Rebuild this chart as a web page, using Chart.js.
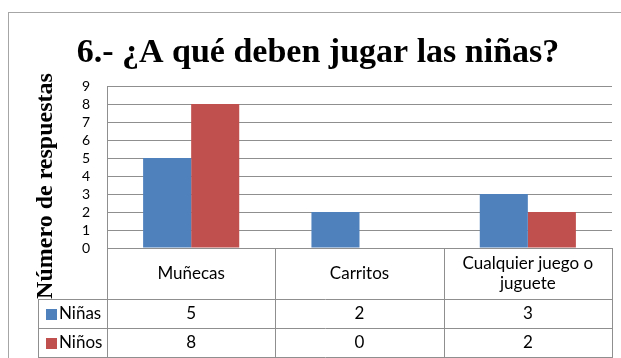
<!DOCTYPE html>
<html>
<head>
<meta charset="utf-8">
<script src="https://cdn.jsdelivr.net/npm/chart.js@4.4.1/dist/chart.umd.min.js"></script>
<style>
  html, body { margin: 0; padding: 0; background: #ffffff; }
  #wrap { width: 621px; height: 358px; }
</style>
</head>
<body>
<div id="wrap"><canvas id="chart" width="621" height="358"></canvas></div>
<script>
// Survey answers: what should girls play with?
const categories = ['Muñecas', 'Carritos', ['Cualquier juego o', 'juguete']];
const seriesNames = ['Niñas', 'Niños'];
const ninasValues = [5, 2, 3];
const ninosValues = [8, 0, 2];
const chartTitle = '6.- ¿A qué deben jugar las niñas?';
const yAxisTitle = 'Número de respuestas';

const seriesColors = ['#4F81BD', '#C0504D'];
const lineGray = '#8f8f8f';
const labelFont = 'Lato, "Open Sans", sans-serif';

// Draws the frame, title, vertical axis title and the data table under the plot.
const tableAndTitles = {
  id: 'tableAndTitles',
  afterDraw(chart) {
    const ctx = chart.ctx;
    const area = chart.chartArea;
    const xs = chart.scales.x;
    const n = categories.length;
    const colW = (area.right - area.left) / n;
    const tableLeft = 38;
    const headerBottom = 299;
    const rowH = 29;
    const tableBottom = headerBottom + rowH * 2;
    const seriesValues = [ninasValues, ninosValues];

    ctx.save();

    // outer frame
    ctx.strokeStyle = '#a6a6a6';
    ctx.lineWidth = 1;
    ctx.strokeRect(8.5, 12.5, 700, 400);

    // chart title
    ctx.fillStyle = '#000';
    ctx.font = 'bold 34px "Liberation Serif", "Times New Roman", serif';
    ctx.textAlign = 'center';
    ctx.textBaseline = 'alphabetic';
    ctx.fillText(chartTitle, 318, 62);

    // vertical axis title
    ctx.save();
    ctx.translate(46, 186);
    ctx.rotate(-Math.PI / 2);
    ctx.font = 'bold 24px "Liberation Serif", "Times New Roman", serif';
    ctx.textBaseline = 'middle';
    ctx.fillText(yAxisTitle, 0, 0);
    ctx.restore();

    // table grid
    ctx.strokeStyle = lineGray;
    ctx.lineWidth = 1;
    ctx.beginPath();
    for (let i = 0; i <= n; i++) {
      const x = Math.round(area.left + i * colW) + 0.5;
      ctx.moveTo(x, area.bottom);
      ctx.lineTo(x, tableBottom);
    }
    ctx.moveTo(tableLeft + 0.5, headerBottom);
    ctx.lineTo(tableLeft + 0.5, tableBottom);
    for (let r = 0; r <= 2; r++) {
      const y = headerBottom + r * rowH + 0.5;
      ctx.moveTo(tableLeft, y);
      ctx.lineTo(Math.round(area.right) + 1, y);
    }
    ctx.stroke();

    // category names in the header row
    ctx.fillStyle = '#000';
    ctx.font = '17px ' + labelFont;
    ctx.textAlign = 'center';
    ctx.textBaseline = 'middle';
    const headerMid = (area.bottom + headerBottom) / 2;
    categories.forEach((cat, i) => {
      const cx = xs.getPixelForValue(i);
      const lines = Array.isArray(cat) ? cat : [cat];
      const lh = 20;
      lines.forEach((ln, k) => {
        ctx.fillText(ln, cx, headerMid + (k - (lines.length - 1) / 2) * lh);
      });
    });

    // series rows: legend key, name and values
    seriesNames.forEach((name, s) => {
      const cy = headerBottom + s * rowH + rowH / 2 + 0.5;
      ctx.fillStyle = seriesColors[s];
      ctx.fillRect(46, Math.round(cy - 5.5), 11, 11);
      ctx.fillStyle = '#000';
      ctx.textAlign = 'left';
      ctx.fillText(name, 59, cy);
      ctx.textAlign = 'center';
      seriesValues[s].forEach((v, i) => {
        ctx.fillText(String(v), xs.getPixelForValue(i), cy);
      });
    });

    ctx.restore();
  }
};

new Chart(document.getElementById('chart'), {
  type: 'bar',
  data: {
    labels: categories,
    datasets: [
      { label: seriesNames[0], data: ninasValues, backgroundColor: seriesColors[0], borderWidth: 0 },
      { label: seriesNames[1], data: ninosValues, backgroundColor: seriesColors[1], borderWidth: 0 }
    ]
  },
  options: {
    responsive: false,
    devicePixelRatio: 1,
    animation: false,
    layout: { padding: { left: 0, top: 86, right: 9, bottom: 110 } },
    datasets: { bar: { categoryPercentage: 0.571, barPercentage: 1 } },
    plugins: {
      legend: { display: false },
      title: { display: false },
      tooltip: { enabled: false }
    },
    scales: {
      x: { display: false },
      y: {
        min: 0,
        max: 9,
        ticks: { stepSize: 1, autoSkip: false, padding: 17, color: '#000', font: { family: labelFont, size: 14 } },
        grid: { color: lineGray, lineWidth: 1, drawTicks: false },
        border: { display: true, color: lineGray },
        afterFit(scale) { scale.width = 107; }
      }
    }
  },
  plugins: [tableAndTitles]
});
</script>
</body>
</html>
